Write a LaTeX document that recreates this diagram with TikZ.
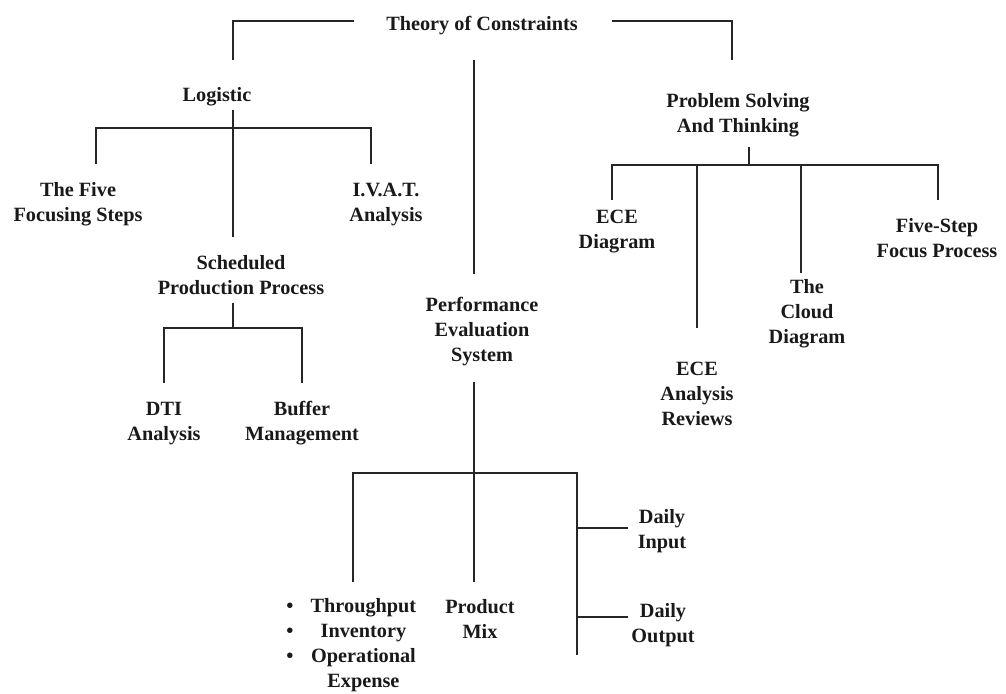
\documentclass[tikz,border=0pt]{standalone}
\usepackage{fontspec}
\setmainfont{Liberation Serif}
\begin{document}
\begin{tikzpicture}[x=0.75pt,y=-0.75pt,
  lbl/.style={font=\fontsize{15.2}{18.75}\selectfont\bfseries, align=center,
              inner sep=0pt, anchor=base, text=black!90},
  link/.style={draw=black!85, line width=1.2pt}]
\useasboundingbox (0,0) rectangle (1006,693);
% multi-line labels are placed by the baseline of their last line

% ---------- root ----------
\node[lbl] (toc) at (482,30) {Theory of Constraints};
\coordinate (tocL) at (354,21);
\coordinate (tocR) at (612,21);
\coordinate (logIn) at (233,60);
\coordinate (pstIn) at (732,60);
\coordinate (pesIn) at (474,60);
\coordinate (pesTop) at (474,274);
\draw[link] (tocL) -| (logIn);
\draw[link] (tocR) -| (pstIn);
\draw[link] (pesIn) -- (pesTop);

% ---------- logistic branch ----------
\node[lbl] (log) at (217,101) {Logistic};
\node[lbl] (ffs) at (78,221) {The Five\\Focusing Steps};
\node[lbl] (ivat) at (386,221) {I.V.A.T.\\Analysis};
\node[lbl] (spp) at (241,294) {Scheduled\\Production Process};
\coordinate (logOut) at (233,110);
\coordinate (sppIn) at (233,237);
\coordinate (logBarL) at (96,128);
\coordinate (logBarR) at (371,128);
\coordinate (ffsIn) at (96,164);
\coordinate (ivatIn) at (371,164);
\draw[link] (logOut) -- (sppIn);
\draw[link] (ffsIn) -- (logBarL) -- (logBarR) -- (ivatIn);

\node[lbl] (dti) at (164,440) {DTI\\Analysis};
\node[lbl] (buf) at (302,440) {Buffer\\Management};
\coordinate (sppOut) at (233,303);
\coordinate (sppJ) at (233,328);
\coordinate (sppBarL) at (164,328);
\coordinate (sppBarR) at (302,328);
\coordinate (dtiIn) at (164,383);
\coordinate (bufIn) at (302,383);
\draw[link] (sppOut) -- (sppJ);
\draw[link] (dtiIn) -- (sppBarL) -- (sppBarR) -- (bufIn);

% ---------- performance evaluation branch ----------
\node[lbl] (pes) at (482,361) {Performance\\Evaluation\\System};
\coordinate (pesOut) at (474,382);
\coordinate (pesJ) at (474,473);
\coordinate (pesBarL) at (353,473);
\coordinate (pesBarR) at (577,473);
\coordinate (tieIn) at (353,582);
\coordinate (pmIn) at (474,582);
\coordinate (pesEnd) at (577,655);
\coordinate (diJ) at (577,528);
\coordinate (doJ) at (577,617);
\coordinate (diIn) at (628,528);
\coordinate (doIn) at (628,617);
\draw[link] (pesOut) -- (pesJ);
\draw[link] (tieIn) -- (pesBarL) -- (pesBarR) -- (pesEnd);
\draw[link] (pesJ) -- (pmIn);
\draw[link] (diJ) -- (diIn);
\draw[link] (doJ) -- (doIn);

\node[lbl] (di) at (662,548) {Daily\\Input};
\node[lbl] (do) at (663,642) {Daily\\Output};
\node[lbl] (pm) at (480,638) {Product\\Mix};
\node[lbl, anchor=north west] (tie) at (286,595) {%
  \begin{tabular}{@{}c@{\hspace{13pt}}c@{}}
  \textbullet & Throughput\\
  \textbullet & Inventory\\
  \textbullet & Operational\\
              & Expense
  \end{tabular}};

% ---------- problem solving branch ----------
\node[lbl] (pst) at (738,132) {Problem Solving\\And Thinking};
\coordinate (pstOut) at (749,147);
\coordinate (pstJ) at (749,165);
\coordinate (pstBarL) at (612,165);
\coordinate (pstBarR) at (938,165);
\coordinate (ecdIn) at (612,200);
\coordinate (ecaIn) at (697,328);
\coordinate (cldIn) at (801,273);
\coordinate (fspIn) at (938,200);
\coordinate (ecaJ) at (697,165);
\coordinate (cldJ) at (801,165);
\draw[link] (pstOut) -- (pstJ);
\draw[link] (ecdIn) -- (pstBarL) -- (pstBarR) -- (fspIn);
\draw[link] (ecaJ) -- (ecaIn);
\draw[link] (cldJ) -- (cldIn);

\node[lbl] (ecd) at (617,248) {ECE\\Diagram};
\node[lbl] (eca) at (697,425) {ECE\\Analysis\\Reviews};
\node[lbl] (cld) at (807,343) {The\\Cloud\\Diagram};
\node[lbl] (fsp) at (937,257) {Five-Step\\Focus Process};
\end{tikzpicture}
\end{document}
